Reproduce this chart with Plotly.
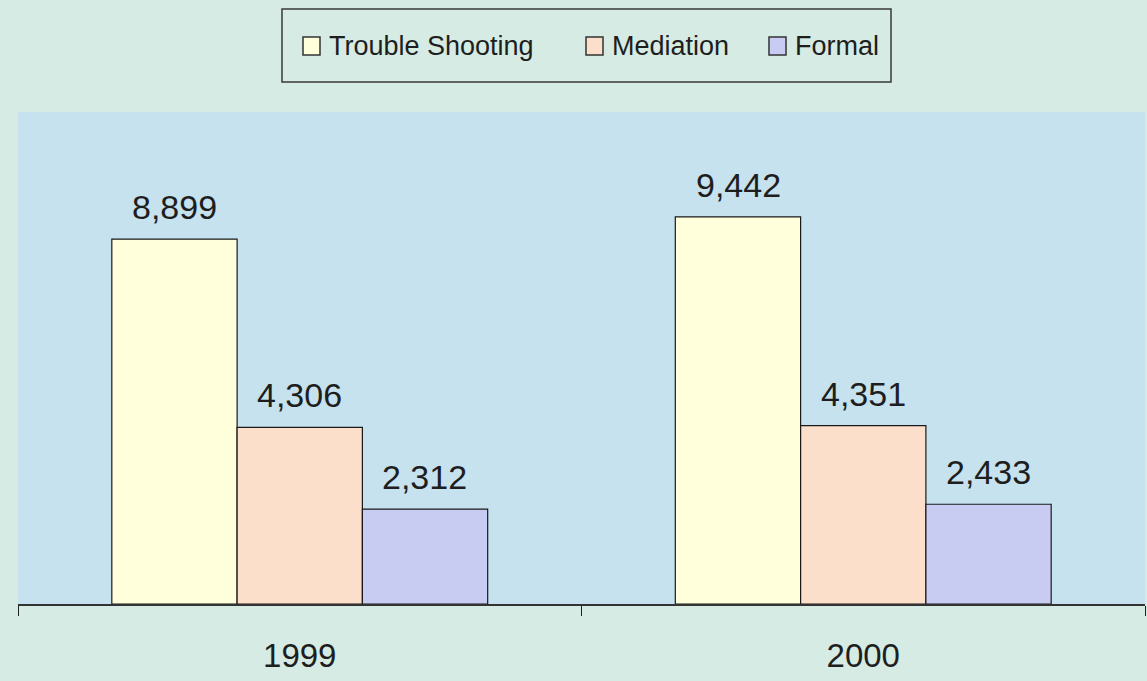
import plotly.graph_objects as go

years = ["1999", "2000"]
trouble_shooting = [8899, 9442]
mediation = [4306, 4351]
formal = [2312, 2433]

series = [
    ("Trouble Shooting", trouble_shooting, "#ffffdc"),
    ("Mediation", mediation, "#fcdfca"),
    ("Formal", formal, "#c8ccf2"),
]

W, H = 1147, 681
ML, MR, MT, MB = 18, 2, 112, 77
PW, PH = W - ML - MR, H - MT - MB
BAR_PX = 125  # on-screen width of one bar

FONT = "Liberation Sans, Arial, sans-serif"
INK = "#1e1e1e"


def px_x(x):
    return (x - ML) / PW


def px_y(y):
    return (H - MB - y) / PH


fig = go.Figure()
for name, vals, color in series:
    fig.add_trace(go.Bar(
        name=name, x=years, y=vals,
        marker=dict(color=color, line=dict(color="#1a1a1a", width=1.2)),
        showlegend=False,
    ))

# value labels above each bar (x given as category index)
for i, (name, vals, color) in enumerate(series):
    for j, v in enumerate(vals):
        fig.add_annotation(
            x=j, y=v, xref="x", yref="y", text=f"{v:,}", showarrow=False,
            xanchor="center", yanchor="bottom", xshift=(i - 1) * BAR_PX, yshift=11,
            font=dict(size=34, color=INK, family=FONT),
        )

# boxed legend across the top
fig.add_shape(type="rect", xref="paper", yref="paper",
              x0=px_x(282), x1=px_x(891), y0=px_y(82), y1=px_y(9),
              line=dict(color="#3a3a3a", width=1.5), fillcolor="rgba(0,0,0,0)")
legend_pos = [(303, 327), (586, 610), (769, 793)]
for (name, vals, color), (sx, tx) in zip(series, legend_pos):
    fig.add_shape(type="rect", xref="paper", yref="paper",
                  x0=px_x(sx), x1=px_x(sx + 17), y0=px_y(55), y1=px_y(37),
                  line=dict(color="#333333", width=1.5), fillcolor=color)
    fig.add_annotation(
        x=px_x(tx), y=px_y(46), xref="paper", yref="paper", text=name,
        showarrow=False, xanchor="left", yanchor="middle",
        font=dict(size=27, color=INK, family=FONT),
    )

fig.update_layout(
    width=W, height=H,
    barmode="group", bargap=0.333, bargroupgap=0,
    paper_bgcolor="#d5ebe3", plot_bgcolor="#c6e2ef",
    margin=dict(l=ML, r=MR, t=MT, b=MB),
    font=dict(family=FONT, color=INK),
    showlegend=False,
)
fig.update_xaxes(
    type="category", range=[-0.5, 1.5], tickson="boundaries", ticks="outside", ticklen=10,
    tickcolor="#222", showline=True, linecolor="#333", linewidth=1.5,
    tickfont=dict(size=33), ticklabelstandoff=22, showgrid=False,
)
fig.update_yaxes(range=[0, 12000], visible=False, showgrid=False)

fig.write_html("out.html")
